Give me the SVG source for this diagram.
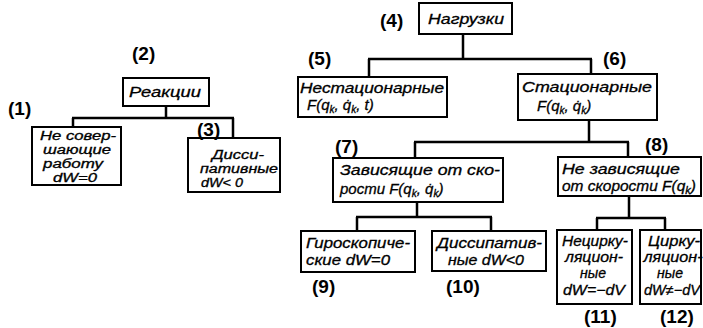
<svg xmlns="http://www.w3.org/2000/svg" width="703" height="328" viewBox="0 0 703 328">
<style>
  .box { fill: #fff; stroke: #000; stroke-width: 2; }
  .t { font-family: "Liberation Sans", "DejaVu Sans", sans-serif; font-style: italic; font-size: 14px; fill: #000; stroke: #000; stroke-width: 0.3; }
  .s { font-size: 12px; }
  .f { font-size: 15px; }
  .c { text-anchor: middle; }
  .sub { font-size: 10px; }
  .num { font-family: "Liberation Sans", "DejaVu Sans", sans-serif; font-weight: bold; font-size: 19px; fill: #000; }
  .conn path { fill: none; stroke: #000; stroke-width: 2.5; }
</style>
<rect width="703" height="328" fill="#fff"/>

<g id="connectors" class="conn">
  <path d="M166 106 V118 M72 118 H234 M73 118 V127 M233 118 V138"/>
  <path d="M463 34 V59 M368 59 H592 M369 59 V77 M591 59 V74"/>
  <path d="M589 120 V142 M414 142 H629 M415 142 V158 M628 142 V157"/>
  <path d="M417 202 V217 M356 217 H492 M357 217 V231 M491 217 V231"/>
  <path d="M629 196 V218 M596 218 H666 M597 218 V230 M665 218 V230"/>
</g>

<g id="node1">
  <rect class="box" x="32" y="127" width="89" height="58"/>
  <text class="t s c" x="78" y="140" textLength="76" lengthAdjust="spacingAndGlyphs">Не совер-</text>
  <text class="t s c" x="77" y="154" textLength="68" lengthAdjust="spacingAndGlyphs">шающие</text>
  <text class="t s c" x="73" y="168" textLength="60" lengthAdjust="spacingAndGlyphs">работу</text>
  <text class="t s c" x="75" y="182" textLength="44" lengthAdjust="spacingAndGlyphs">dW=0</text>
  <text class="num" x="8" y="115">(1)</text>
</g>

<g id="node2">
  <rect class="box" x="123" y="78" width="86" height="28"/>
  <text class="t c" x="165" y="97" textLength="72" lengthAdjust="spacingAndGlyphs">Реакции</text>
  <text class="num" x="132" y="60">(2)</text>
</g>

<g id="node3">
  <rect class="box" x="188" y="138" width="92" height="54"/>
  <text class="t s c" x="238" y="159" textLength="52" lengthAdjust="spacingAndGlyphs">Дисси-</text>
  <text class="t s c" x="239" y="173" textLength="78" lengthAdjust="spacingAndGlyphs">пативные</text>
  <text class="t s c" x="222" y="187" textLength="42" lengthAdjust="spacingAndGlyphs">dW&lt; 0</text>
  <text class="num" x="197" y="136">(3)</text>
</g>

<g id="node4">
  <rect class="box" x="419" y="3" width="93" height="31"/>
  <text class="t c" x="466" y="24" textLength="76" lengthAdjust="spacingAndGlyphs">Нагрузки</text>
  <text class="num" x="380" y="27">(4)</text>
</g>

<g id="node5">
  <rect class="box" x="298" y="77" width="149" height="40"/>
  <text class="t" x="300" y="93" textLength="144" lengthAdjust="spacingAndGlyphs">Нестационарные</text>
  <text class="t f" x="307" y="110">F(q<tspan class="sub" dy="3">k</tspan><tspan dy="-3">, q̇</tspan><tspan class="sub" dy="3">k</tspan><tspan dy="-3">, t)</tspan></text>
  <text class="num" x="308" y="65">(5)</text>
</g>

<g id="node6">
  <rect class="box" x="518" y="74" width="139" height="46"/>
  <text class="t" x="522" y="92" textLength="130" lengthAdjust="spacingAndGlyphs">Стационарные</text>
  <text class="t f" x="537" y="111">F(q<tspan class="sub" dy="3">k</tspan><tspan dy="-3">, q̇</tspan><tspan class="sub" dy="3">k</tspan><tspan dy="-3">)</tspan></text>
  <text class="num" x="603" y="65">(6)</text>
</g>

<g id="node7">
  <rect class="box" x="333" y="158" width="170" height="44"/>
  <text class="t" x="340" y="175" textLength="160" lengthAdjust="spacingAndGlyphs">Зависящие от ско-</text>
  <text class="t f" x="340" y="194">рости F(q<tspan class="sub" dy="3">k</tspan><tspan dy="-3">, q̇</tspan><tspan class="sub" dy="3">k</tspan><tspan dy="-3">)</tspan></text>
  <text class="num" x="335" y="153">(7)</text>
</g>

<g id="node8">
  <rect class="box" x="558" y="157" width="143" height="39"/>
  <text class="t" x="562" y="174" textLength="118" lengthAdjust="spacingAndGlyphs">Не зависящие</text>
  <text class="t" x="562" y="191" textLength="134" lengthAdjust="spacingAndGlyphs">от скорости F(q<tspan class="sub" dy="3">k</tspan><tspan dy="-3">)</tspan></text>
  <text class="num" x="645" y="151">(8)</text>
</g>

<g id="node9">
  <rect class="box" x="301" y="231" width="114" height="41"/>
  <text class="t" x="306" y="248" textLength="104" lengthAdjust="spacingAndGlyphs">Гироскопиче-</text>
  <text class="t" x="306" y="265" textLength="84" lengthAdjust="spacingAndGlyphs">ские dW=0</text>
  <text class="num" x="312" y="293">(9)</text>
</g>

<g id="node10">
  <rect class="box" x="432" y="231" width="114" height="40"/>
  <text class="t" x="437" y="248" textLength="105" lengthAdjust="spacingAndGlyphs">Диссипатив-</text>
  <text class="t" x="448" y="265" textLength="76" lengthAdjust="spacingAndGlyphs">ные dW&lt;0</text>
  <text class="num" x="446" y="293">(10)</text>
</g>

<g id="node11">
  <rect class="box" x="557" y="230" width="75" height="74"/>
  <text class="t c" x="595" y="246" textLength="66" lengthAdjust="spacingAndGlyphs">Нецирку-</text>
  <text class="t c" x="594" y="262" textLength="58" lengthAdjust="spacingAndGlyphs">ляцион-</text>
  <text class="t c" x="593" y="278" textLength="26" lengthAdjust="spacingAndGlyphs">ные</text>
  <text class="t c" x="594" y="295" textLength="62" lengthAdjust="spacingAndGlyphs">dW=−dV</text>
  <text class="num" x="584" y="323">(11)</text>
</g>

<g id="node12">
  <rect class="box" x="640" y="230" width="61" height="74"/>
  <text class="t c" x="674" y="246" textLength="52" lengthAdjust="spacingAndGlyphs">Цирку-</text>
  <text class="t c" x="673" y="262" textLength="59" lengthAdjust="spacingAndGlyphs">ляцион-</text>
  <text class="t c" x="670" y="278" textLength="26" lengthAdjust="spacingAndGlyphs">ные</text>
  <text class="t c" x="672" y="295" textLength="56" lengthAdjust="spacingAndGlyphs">dW≠−dV</text>
  <text class="num" x="660" y="323">(12)</text>
</g>
</svg>
